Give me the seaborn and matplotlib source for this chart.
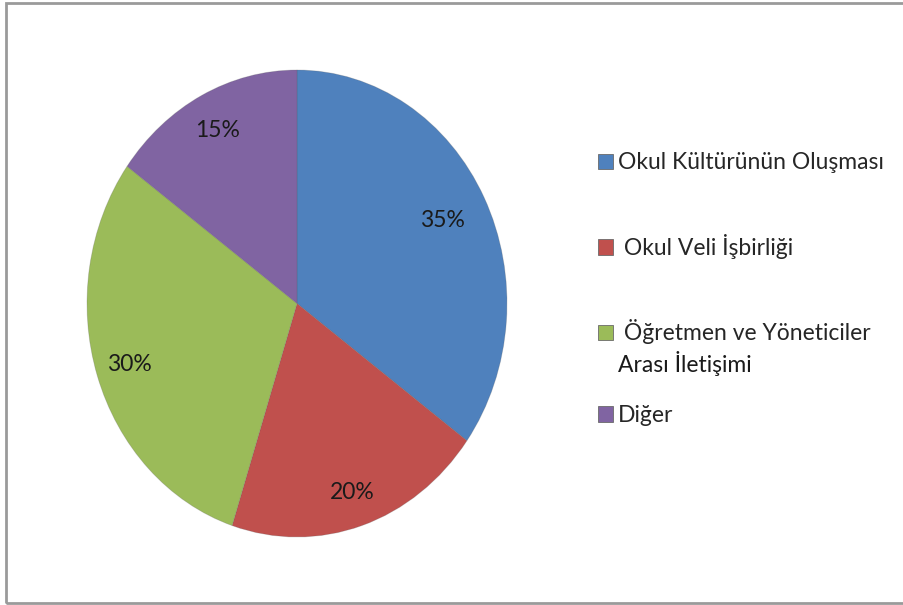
import matplotlib
matplotlib.use('Agg')
import numpy as np
import matplotlib.pyplot as plt
import seaborn as sns
from matplotlib.patches import Rectangle

sns.set_theme(style='white')
plt.rcParams['font.family'] = ['Lato', 'DejaVu Sans']

categories = ['Okul Kültürünün Oluşması', ' Okul Veli İşbirliği',
              ' Öğretmen ve Yöneticiler', 'Diğer']
extra_line = 'Arası İletişimi'  # second line of the third legend entry
shares = [35, 20, 30, 15]
colors = ['#4F81BD', '#C0504D', '#9BBB59', '#8064A2']
label_dist = [0.78, 0.85, 0.84, 0.83]

fig = plt.figure(figsize=(9.04, 6.05), dpi=100)
fig.patch.set_facecolor('white')

# pie is slightly taller than wide in the reference, so no equal aspect
ax = fig.add_axes([87 / 904, 1 - 537 / 605, 420 / 904, 467 / 605])
wedges, texts, autotexts = ax.pie(
    shares, colors=colors, startangle=90, counterclock=False,
    autopct='%d%%', pctdistance=0.8,
    wedgeprops=dict(linewidth=0.6, edgecolor='#5a5a5a40'),
    textprops=dict(fontsize=16.5, color='#1a1a1a'))
# Excel-style "best fit" label placement: nudge each label radially
for w, t, d in zip(wedges, autotexts, label_dist):
    ang = np.deg2rad((w.theta1 + w.theta2) / 2)
    t.set_position((d * np.cos(ang), d * np.sin(ang)))
ax.set_aspect('auto')
ax.set_xlim(-1, 1)
ax.set_ylim(-1, 1)
ax.axis('off')

leg = fig.legend(wedges, categories, loc='upper left',
                 bbox_to_anchor=(587 / 904, 1 - 141 / 605),
                 frameon=False, fontsize=16.5, handlelength=0.65,
                 handleheight=0.65, handletextpad=0.2,
                 labelspacing=2.64, borderpad=0)
for h in leg.legend_handles:
    h.set_edgecolor('#6a6a6a')
    h.set_linewidth(0.6)

fig.canvas.draw()
bb = leg.get_texts()[2].get_window_extent()
fig.text(bb.x0 / 904, (bb.y0 - 32) / 605, extra_line, fontsize=16.5,
         color='#1a1a1a', va='bottom', ha='left')

# outer chart frame
fig.add_artist(Rectangle((6 / 904, 2 / 605), 1.0, 600 / 605,
                         transform=fig.transFigure, fill=False,
                         edgecolor='#9a9a9a', linewidth=2))

fig.savefig('out.png', dpi=100)
